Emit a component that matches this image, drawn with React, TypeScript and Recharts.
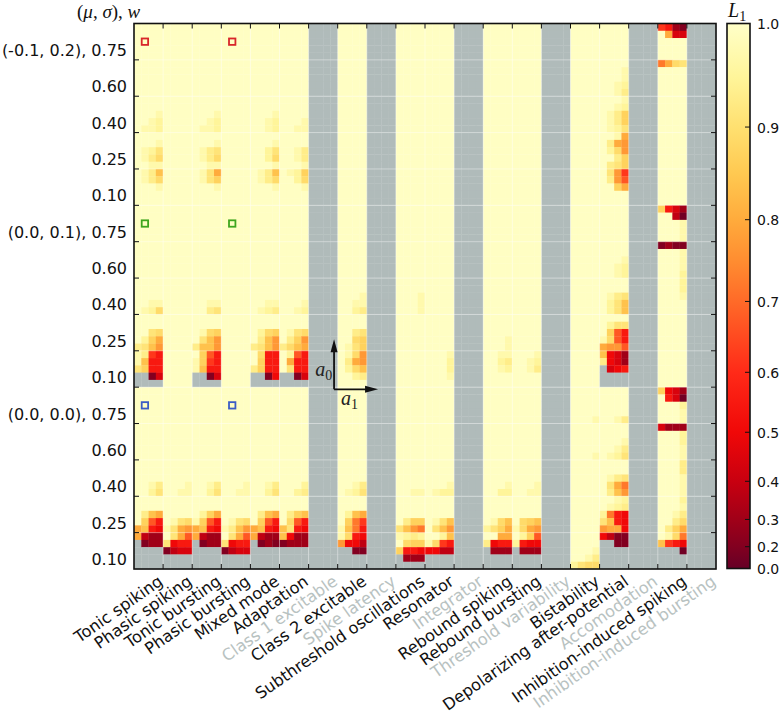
import { BarChart, Bar, ScatterChart, Scatter, XAxis, YAxis } from 'recharts';

// one letter per cell, looked up in levels; '.' means no data
const levels: Record<string, number> = {
  a: 0.995, b: 0.97, c: 0.95, d: 0.93, e: 0.91, f: 0.89, g: 0.87, h: 0.84, i: 0.8, j: 0.77,
  k: 0.72, l: 0.67, m: 0.62, n: 0.55, o: 0.5, p: 0.44, q: 0.38, r: 0.3, s: 0.2, t: 0.08,
};

const flat = 'aaaa aaaa aaaa aaaa aaaa';
const none = '.... .... .... .... ....';
const noData = [none, none, none, none, none, none, none, none, none, none, none, none, none, none, none];

const tonicSpiking = [
  flat, flat, 'aaaa aaaa aaab aabc abbc', 'aaaa aaab abce abdf aabb', 'abdh abdf aaab aaaa aaaa',
  flat, flat, 'aaaa aaaa aaaa aabb abcf', 'aaaa aaaa aaef acgi dehj', 'bdmn bhnn egnn ..sp ....',
  flat, flat, 'aaaa aaaa aaaa aabd aace', 'aaaa aaaa adhi agln ihno', 'iqrr .srr .... .... ....',
];
const phasicSpiking = [
  flat, flat, flat, flat, flat,
  flat, flat, flat, flat, flat,
  flat, flat, 'aaaa aaaa aaaa aaab aabb', 'aaaa aaaa aaaa abef beij', 'aeil eonn sqpp .... ....',
];
const tonicBursting = [
  flat, flat, 'aaaa aaaa aaab aabc abbc', 'aaaa aaab abde abdf aabb', 'abei abeg aaab aaaa aaaa',
  flat, flat, 'aaaa aaaa aaaa aabb aade', 'aaaa aaaa abfg aehj dhhj', 'agln bgmn bhnn ..sp ....',
  flat, flat, 'aaaa aaaa aaaa aabd aace', 'aaaa aaaa acgi bgln ihno', 'iqrr .srr .... .... ....',
];
const phasicBursting = [
  flat, flat, flat, flat, flat,
  flat, flat, flat, flat, flat,
  flat, flat, 'aaaa aaaa aaaa aaab aabb', 'aaaa aaaa aaaa abef bdhj', 'aeil eonn sqpp .... ....',
];
const mixedMode = [
  flat, flat, 'aaaa aaaa aaab aabc aabc', 'aaaa aaab aace aacf aaab', 'abdh abdf aaab aaaa aaaa',
  flat, flat, 'aaaa aaaa aaaa aabb abcd', 'aaaa aaaa acfg adhj dehj', 'afnn agnn dgnn ..so ....',
  flat, flat, 'aaaa aaaa aaaa aabd aace', 'aaaa aaaa adhi agln ihno', 'iqrr .srs .... .... ....',
];
const adaptation = [
  flat, flat, 'aaaa aaaa aaaa aaab aabb', 'aaaa aaaa aabd aabd aaab', 'abcg aacf aaab aaaa aaaa',
  flat, flat, 'aaaa aaaa aaaa aaab aabc', 'aaaa aaaa abef adgj dfhi', 'acln ainn aenn ..sp ....',
  flat, flat, 'aaaa aaaa aaaa aaac aacd', 'aaaa aaaa adgh afln heno', 'horr srrr .... .... ....',
];
const class2Excitable = [
  flat, flat, flat, flat, flat,
  flat, flat, 'aaaa aaaa aaab aabb aacd', 'aaaa aaaa aade aafg abeg', 'abfj adij acfh aacd aaaa',
  flat, flat, 'aaaa aaaa aaaa aabd abce', 'aaaa aaaa achi agkm bhkn', 'bfno jooq ..ss .... ....',
];
const subthreshold = [
  flat, flat, flat, flat, flat,
  flat, flat, 'aaaa aaaa aaab aaab aaab', flat, flat,
  flat, flat, 'aaaa aaaa aaaa aaaa aabb', 'aaaa aaaa aaaa adgg ehjk', 'bcdc afgg gnno .rrr ....',
];
const resonator = [
  flat, flat, flat, flat, flat,
  flat, flat, flat, flat, 'aaab aaac aaac aaab aaaa',
  flat, flat, 'aaaa aaaa aaaa aaab abcc', 'aaaa aaaa aaaa abeh aehj', 'aach bfmn ooqq .... ....',
];
const reboundSpiking = [
  flat, flat, flat, flat, flat,
  flat, flat, flat, 'aaaa aaaa aaaa aaab aaab', 'aabb aacd aabc aaaa aaaa',
  flat, flat, 'aaaa aaaa aaaa aaab aacc', 'aaaa aaaa aaaa abfh cegi', 'aaii donn .rrr .... ....',
];
const reboundBursting = [
  flat, flat, flat, flat, flat,
  flat, flat, flat, flat, 'aaab aabc aabd aaaa aaaa',
  flat, flat, 'aaaa aaaa aaaa aaab aabb', 'aaaa aaaa aaaa afgh bfij', 'acgl cnoo .rrr .... ....',
];
const bistability = [
  flat, flat, flat, flat, flat,
  flat, flat, flat, flat, flat,
  'aaaa aaaa aaaa aaaa aaab', 'aaaa aaaa aaaa aaaa aaab', flat, flat, 'aaaa aaaa aaab aabd ceff',
];
const depolarizing = [
  flat, 'aaaa aaab aaab aabc aabd', 'aaab aabc abdg abdg abce', 'aabi adij acfj aadg adeg', 'aejm adjl aagi aaaa aaaa',
  flat, 'aaaa aaaa aaab aabc aabc', 'aaaa aaaa abde aceh aceh', 'aaaa acee agln bfln ijjl', 'hopr dopr .pon .... ....',
  'aaaa aaaa aaaa aaaa aabd', 'aaaa aaaa aaab aabd abce', 'aaaa aaaa abde aeik adhj', 'aabc abcd ckno ehno jiio', 'oqss ..ss .... .... ....',
];
const inhibitionSpiking = [
  'mnrs aipp aaaa aaaa aaaa', 'kife aaaa aaaa aaaa aaaa', flat, flat, flat,
  'gnpr aaqt aaab aaab aaab', 'srss aaab aaab aaab aaac', 'aaac aaac aaab aaaa aaaa', flat, flat,
  'gopr anpt aaac aaab aaab', 'prrr aaac aaac aaab aaab', 'aaad aaad aaab aaab aaab', 'aaac aaab aabd aadf adgi', 'abfk hmno ...t .... ....',
];

const behaviours = [
  tonicSpiking, phasicSpiking, tonicBursting, phasicBursting, mixedMode, adaptation, noData, class2Excitable,
  noData, subthreshold, resonator, noData, reboundSpiking, reboundBursting, noData, bistability,
  depolarizing, noData, inhibitionSpiking, noData,
];

const behaviourNames = [
  'Tonic spiking', 'Phasic spiking', 'Tonic bursting', 'Phasic bursting', 'Mixed mode', 'Adaptation',
  'Class 1 excitable', 'Class 2 excitable', 'Spike latency', 'Subthreshold oscillations', 'Resonator',
  'Integrator', 'Rebound spiking', 'Rebound bursting', 'Threshold variability', 'Bistability',
  'Depolarizing after-potential', 'Accomodation', 'Inhibition-induced spiking', 'Inhibition-induced bursting',
];
const mutedNames = ['Class 1 excitable', 'Spike latency', 'Integrator', 'Threshold variability', 'Accomodation', 'Inhibition-induced bursting'];

const rowLabels = [
  '(-0.1, 0.2), 0.75', '0.60', '0.40', '0.25', '0.10',
  '(0.0, 0.1), 0.75', '0.60', '0.40', '0.25', '0.10',
  '(0.0, 0.0), 0.75', '0.60', '0.40', '0.25', '0.10',
];

const markers = [
  { col: 1.5, row: 2.5, color: '#d8262a' },
  { col: 13.5, row: 2.5, color: '#d8262a' },
  { col: 1.5, row: 27.5, color: '#3fa61e' },
  { col: 13.5, row: 27.5, color: '#3fa61e' },
  { col: 1.5, row: 52.5, color: '#3b5cc6' },
  { col: 13.5, row: 52.5, color: '#3b5cc6' },
];
const axesOrigin = [{ col: 27.5, row: 50.3 }];
const axisNotes = [
  { col: 24.9, row: 48.4, sub: '0' },
  { col: 28.45, row: 52.4, sub: '1' },
];

const colorStops: [number, string][] = [
  [1, '#ffffc8'], [0.95, '#fff59a'], [0.9, '#ffe070'], [0.85, '#ffc850'], [0.8, '#ffab3c'], [0.75, '#ff8c30'],
  [0.7, '#ff6a28'], [0.6, '#ff2a18'], [0.5, '#f00808'], [0.4, '#c80010'], [0.3, '#a00018'], [0.2, '#820020'], [0, '#660026'],
];
const colorbarTicks = [1, 0.9, 0.8, 0.7, 0.6, 0.5, 0.4, 0.3, 0.2, 0];
const colorbarData = [{ name: 'L1', span: 1 }];

const NO_DATA = '#b0bbba';
const INK = '#111';
const SANS = 'DejaVu Sans';
const PLOT_W = 582;
const PLOT_H = 545.5;
const CELL_W = PLOT_W / 80;
const CELL_H = PLOT_H / 75;

const hex = (c: string) => [1, 3, 5].map((i) => parseInt(c.slice(i, i + 2), 16));

function colorOf(v: number | null) {
  if (v === null) return NO_DATA;
  for (let i = 1; i < colorStops.length; i++) {
    const [v1, c1] = colorStops[i - 1];
    const [v0, c0] = colorStops[i];
    if (v >= v0) {
      const t = (v - v0) / (v1 - v0);
      const a = hex(c0);
      const b = hex(c1);
      return `rgb(${a.map((x, k) => Math.round(x + (b[k] - x) * t)).join(',')})`;
    }
  }
  return colorStops[colorStops.length - 1][1];
}

const cells = behaviours.flatMap((groups, c) =>
  groups.flatMap((group, g) =>
    group.split(' ').flatMap((token, s) =>
      [...token].map((ch, i) => ({
        col: c * 4 + i + 0.5,
        row: g * 5 + s + 0.5,
        value: ch === '.' ? null : levels[ch],
      })),
    ),
  ),
);

const colTicks = behaviourNames.map((_, i) => (i + 1) * 4);
const rowTicks = rowLabels.map((_, i) => (i + 1) * 5);
const colMarks = colTicks.slice(0, -1).map((col) => ({ col, row: 0 }));
const rowMarks = rowTicks.slice(0, -1).map((row) => ({ col: 0, row }));
const frameCorner = [{ col: 0, row: 0 }];

function HeatCell({ cx, cy, payload }: any) {
  return (
    <rect
      x={cx - CELL_W / 2}
      y={cy - CELL_H / 2}
      width={CELL_W + 0.3}
      height={CELL_H + 0.3}
      fill={colorOf(payload.value)}
    />
  );
}

function MarkerSquare({ cx, cy, payload }: any) {
  return <rect x={cx - 3.2} y={cy - 3.2} width={6.4} height={6.4} fill="none" stroke={payload.color} strokeWidth={1.8} />;
}

// white grid line with its two inward ticks, from a point on the top edge
function ColMark({ cx, cy }: any) {
  return (
    <g>
      <line x1={cx} x2={cx} y1={cy} y2={cy + PLOT_H} stroke="#fff" strokeOpacity={0.4} />
      <line x1={cx} x2={cx} y1={cy} y2={cy + 5} stroke={INK} />
      <line x1={cx} x2={cx} y1={cy + PLOT_H - 5} y2={cy + PLOT_H} stroke={INK} />
    </g>
  );
}

// same, from a point on the left edge
function RowMark({ cx, cy }: any) {
  return (
    <g>
      <line x1={cx} x2={cx + PLOT_W} y1={cy} y2={cy} stroke="#fff" strokeOpacity={0.4} />
      <line x1={cx} x2={cx + 5} y1={cy} y2={cy} stroke={INK} />
      <line x1={cx + PLOT_W - 5} x2={cx + PLOT_W} y1={cy} y2={cy} stroke={INK} />
    </g>
  );
}

function Frame({ cx, cy }: any) {
  return <rect x={cx} y={cy} width={PLOT_W} height={PLOT_H} fill="none" stroke={INK} strokeWidth={1.6} />;
}

function AxesArrows({ cx, cy }: any) {
  return (
    <g>
      <line x1={cx} x2={cx} y1={cy} y2={cy - 42} stroke={INK} strokeWidth={1.8} />
      <line x1={cx} x2={cx + 36} y1={cy} y2={cy} stroke={INK} strokeWidth={1.8} />
      <path d={`M${cx} ${cy - 50} L${cx - 3.5} ${cy - 37} L${cx + 3.5} ${cy - 37} Z`} fill={INK} />
      <path d={`M${cx + 44} ${cy} L${cx + 31} ${cy - 3.5} L${cx + 31} ${cy + 3.5} Z`} fill={INK} />
    </g>
  );
}

function AxisNote({ cx, cy, payload }: any) {
  return (
    <text x={cx} y={cy} fontFamily="Liberation Serif" fontStyle="italic" fontSize={20} fill="#222">
      a<tspan fontSize={14} fontStyle="normal" dy={4}>{payload.sub}</tspan>
    </text>
  );
}

function ColTick({ x, y, index }: any) {
  const name = behaviourNames[index];
  return (
    <text
      transform={`translate(${x - 6} ${y - 3}) rotate(-35)`}
      textAnchor="end"
      dominantBaseline="hanging"
      fontFamily={SANS}
      fontSize={16.2}
      fill={mutedNames.includes(name) ? '#b8c2c1' : INK}
    >
      {name}
    </text>
  );
}

function RowTick({ y, index }: any) {
  return (
    <text x={127} y={y - 4} textAnchor="end" fontFamily={SANS} fontSize={16} fill={INK}>
      {rowLabels[index]}
    </text>
  );
}

function BarTick({ x, y, payload }: any) {
  return (
    <text x={x - 1} y={y + 5.5} fontFamily={SANS} fontSize={14} fill={INK}>
      {Math.sqrt(payload.value).toFixed(1)}
    </text>
  );
}

function ColorbarShape({ x, y, width, height }: any) {
  return (
    <g>
      <rect x={x} y={y} width={width} height={height} fill="url(#l1Gradient)" stroke={INK} strokeWidth={1.6} />
      {colorbarTicks.slice(1, -1).map((v) => {
        const ty = y + height * (1 - v * v);
        return <line key={v} x1={x + width - 5} x2={x + width} y1={ty} y2={ty} stroke={INK} />;
      })}
    </g>
  );
}

export default function App() {
  return (
    <div style={{ position: 'absolute', left: 0, top: 0, width: 780, height: 715, background: '#fff' }}>
      <ScatterChart
        width={780}
        height={715}
        margin={{ top: 23.5, right: 64, bottom: 0, left: 0 }}
        style={{ position: 'absolute', left: 0, top: 0 }}
      >
        <XAxis
          type="number"
          dataKey="col"
          domain={[0, 80]}
          ticks={colTicks}
          interval={0}
          height={146}
          axisLine={false}
          tickLine={false}
          tick={<ColTick />}
        />
        <YAxis
          type="number"
          dataKey="row"
          domain={[0, 75]}
          reversed
          ticks={rowTicks}
          interval={0}
          width={134}
          axisLine={false}
          tickLine={false}
          tick={<RowTick />}
        />
        <Scatter data={cells} shape={<HeatCell />} isAnimationActive={false} />
        <Scatter data={colMarks} shape={<ColMark />} isAnimationActive={false} />
        <Scatter data={rowMarks} shape={<RowMark />} isAnimationActive={false} />
        <Scatter data={markers} shape={<MarkerSquare />} isAnimationActive={false} />
        <Scatter data={axesOrigin} shape={<AxesArrows />} isAnimationActive={false} />
        <Scatter data={axisNotes} shape={<AxisNote />} isAnimationActive={false} />
        <Scatter data={frameCorner} shape={<Frame />} isAnimationActive={false} />
        <text x={77} y={18} fontFamily="Liberation Serif" fontSize={19} fill={INK}>
          (<tspan fontStyle="italic">μ</tspan>, <tspan fontStyle="italic">σ</tspan>), <tspan fontStyle="italic">w</tspan>
        </text>
      </ScatterChart>
      <BarChart
        width={60}
        height={715}
        data={colorbarData}
        barCategoryGap={0}
        margin={{ top: 23.5, right: 0, bottom: 146.5, left: 7 }}
        style={{ position: 'absolute', left: 720, top: 0 }}
      >
        <defs>
          <linearGradient id="l1Gradient" x1="0" y1="0" x2="0" y2="1">
            {colorStops.map(([v, c]) => (
              <stop key={v} offset={1 - v * v} stopColor={c} />
            ))}
          </linearGradient>
        </defs>
        <XAxis dataKey="name" hide />
        <YAxis
          orientation="right"
          type="number"
          domain={[0, 1]}
          ticks={colorbarTicks.map((v) => v * v)}
          interval={0}
          width={30}
          axisLine={false}
          tickLine={false}
          tick={<BarTick />}
        />
        <Bar dataKey="span" shape={<ColorbarShape />} isAnimationActive={false} />
        <text x={8} y={17} fontFamily="Liberation Serif" fontStyle="italic" fontSize={20} fill={INK}>
          L<tspan fontSize={14} fontStyle="normal" dy={4}>1</tspan>
        </text>
      </BarChart>
    </div>
  );
}
